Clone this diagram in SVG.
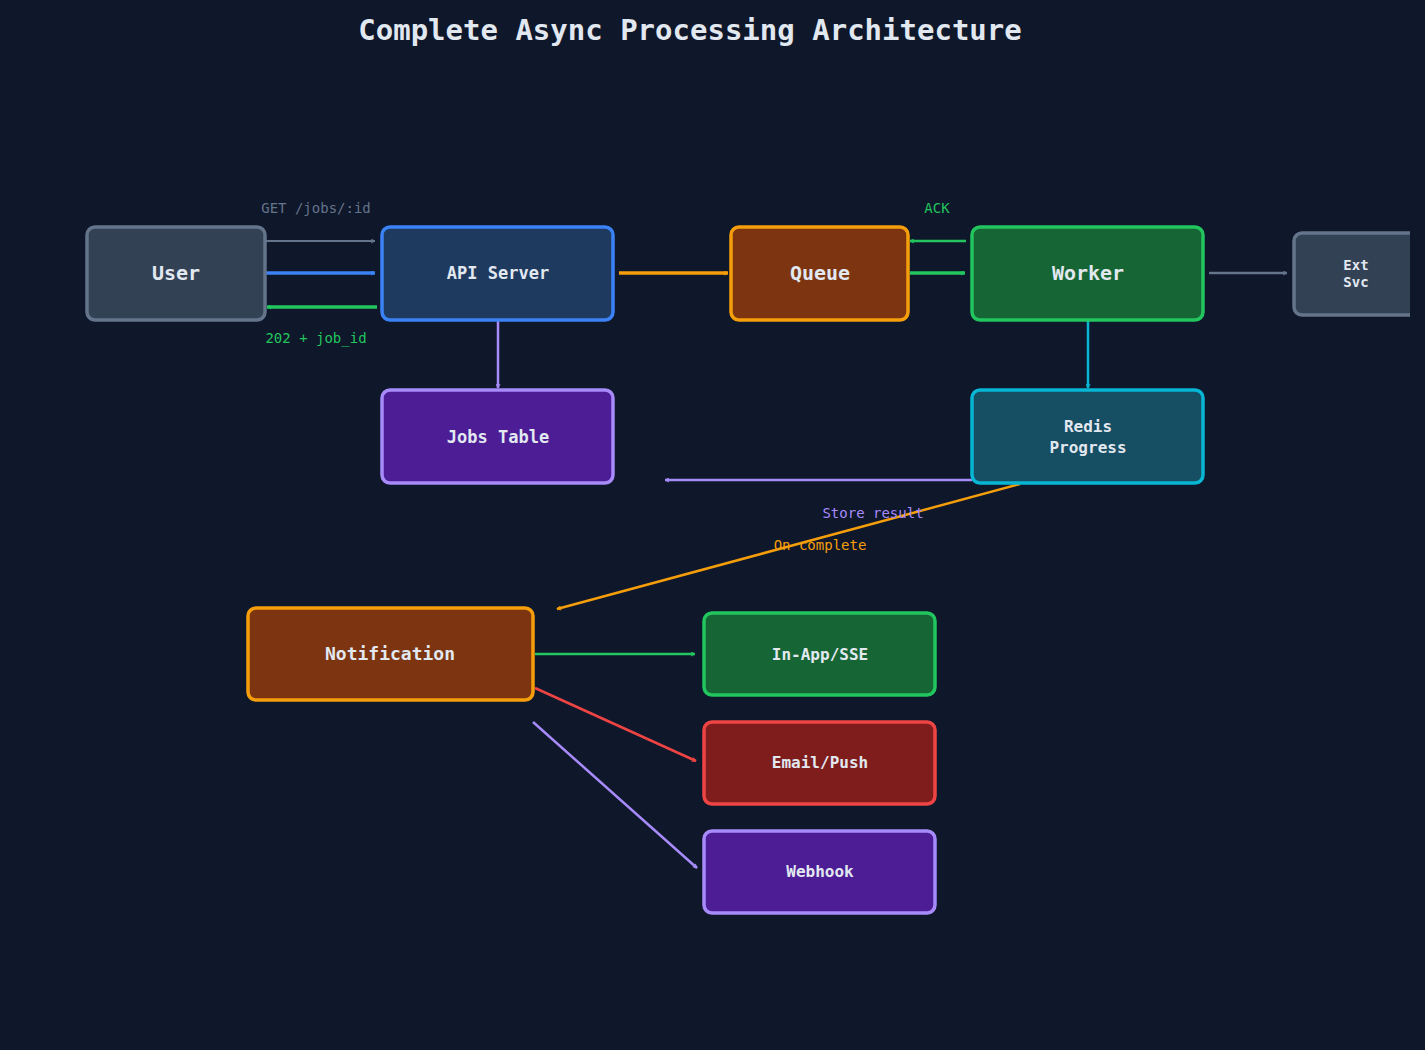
<svg xmlns="http://www.w3.org/2000/svg" width="1425" height="1050" viewBox="0 0 1425 1050">
<style>
text{font-family:"DejaVu Sans Mono","Liberation Mono",monospace;text-anchor:middle;font-weight:bold;fill:#e2e8f0}
.n rect{stroke-width:3.5}
.l{font-weight:normal;font-size:14px}
.c path{fill:none;stroke-width:2.5}
</style>
<defs>
<clipPath id="cp"><rect x="0" y="0" width="1410" height="1050"/></clipPath>
<marker id="m" viewBox="0 0 10 10" refX="9" refY="5" markerWidth="5" markerHeight="5" orient="auto" markerUnits="userSpaceOnUse"><path d="M1,1 L9,5 L1,9" fill="none" stroke="context-stroke" stroke-width="2"/></marker>
</defs>
<rect width="1425" height="1050" fill="#0f172a"/>
<text x="690" y="40" font-size="29">Complete Async Processing Architecture</text>
<g class="c">
<path d="M265,241 H375" stroke="#64748b" stroke-width="2" style="stroke-width:2" marker-end="url(#m)"/>
<path d="M265,273 H375" stroke="#3b82f6" style="stroke-width:3.5" marker-end="url(#m)"/>
<path d="M377,307 H267" stroke="#22c55e" style="stroke-width:3.5" marker-end="url(#m)"/>
<path d="M619,273 H728" stroke="#f59e0b" style="stroke-width:3.5" marker-end="url(#m)"/>
<path d="M966,241 H910" stroke="#22c55e" marker-end="url(#m)"/>
<path d="M910,273 H965" stroke="#22c55e" style="stroke-width:3.5" marker-end="url(#m)"/>
<path d="M1209,273 H1287" stroke="#64748b" marker-end="url(#m)"/>
<path d="M498,320 V388" stroke="#a78bfa" marker-end="url(#m)"/>
<path d="M1088,320 V388" stroke="#06b6d4" marker-end="url(#m)"/>
<path d="M972,480 H665" stroke="#a78bfa" marker-end="url(#m)"/>
<path d="M1020,484 L557,609" stroke="#f59e0b" marker-end="url(#m)"/>
<path d="M535,654 H695" stroke="#22c55e" marker-end="url(#m)"/>
<path d="M535,688 L696,761" stroke="#ef4444" marker-end="url(#m)"/>
<path d="M533,722 L697,868" stroke="#a78bfa" marker-end="url(#m)"/>
<text class="l" x="316" y="213" fill="#64748b" style="fill:#64748b">GET /jobs/:id</text>
<text class="l" x="316" y="343" style="fill:#22c55e">202 + job_id</text>
<text class="l" x="937" y="213" style="fill:#22c55e">ACK</text>
<text class="l" x="873" y="518" style="fill:#a78bfa">Store result</text>
<text class="l" x="820" y="550" style="fill:#f59e0b">On complete</text>
</g>
<g id="user" class="n"><rect x="87" y="227" width="178" height="93" rx="8" fill="#334155" stroke="#64748b"/><text x="176" y="280" font-size="20">User</text></g>
<g id="api" class="n"><rect x="382" y="227" width="231" height="93" rx="8" fill="#1e3a5f" stroke="#3b82f6"/><text x="498" y="279" font-size="17">API Server</text></g>
<g id="queue" class="n"><rect x="731" y="227" width="177" height="93" rx="8" fill="#7c3510" stroke="#f59e0b"/><text x="820" y="280" font-size="20">Queue</text></g>
<g id="worker" class="n"><rect x="972" y="227" width="231" height="93" rx="8" fill="#166534" stroke="#22c55e"/><text x="1088" y="280" font-size="20">Worker</text></g>
<g id="ext" class="n" clip-path="url(#cp)"><rect x="1294" y="233" width="140" height="82" rx="8" fill="#334155" stroke="#64748b"/><text x="1356" y="270" font-size="14">Ext</text><text x="1356" y="287" font-size="14">Svc</text></g>
<g id="jobs" class="n"><rect x="382" y="390" width="231" height="93" rx="8" fill="#4c1d95" stroke="#a78bfa"/><text x="498" y="443" font-size="17">Jobs Table</text></g>
<g id="redis" class="n"><rect x="972" y="390" width="231" height="93" rx="8" fill="#164e63" stroke="#06b6d4"/><text x="1088" y="432" font-size="16">Redis</text><text x="1088" y="453" font-size="16">Progress</text></g>
<g id="notif" class="n"><rect x="248" y="608" width="285" height="92" rx="8" fill="#7c3510" stroke="#f59e0b"/><text x="390" y="660" font-size="18">Notification</text></g>
<g id="inapp" class="n"><rect x="704" y="613" width="231" height="82" rx="8" fill="#166534" stroke="#22c55e"/><text x="820" y="660" font-size="16">In-App/SSE</text></g>
<g id="email" class="n"><rect x="704" y="722" width="231" height="82" rx="8" fill="#7f1d1d" stroke="#ef4444"/><text x="820" y="768" font-size="16">Email/Push</text></g>
<g id="webhook" class="n"><rect x="704" y="831" width="231" height="82" rx="8" fill="#4c1d95" stroke="#a78bfa"/><text x="820" y="877" font-size="16">Webhook</text></g>
</svg>
